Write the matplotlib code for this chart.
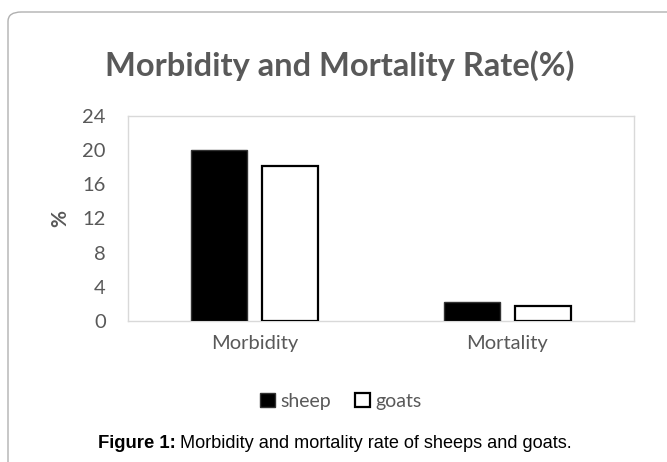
import matplotlib.pyplot as plt
import numpy as np
from matplotlib.patches import FancyBboxPatch

categories = ['Morbidity', 'Mortality']
sheep = [20.0, 2.2]
goats = [18.2, 1.8]
yticks = [0, 4, 8, 12, 16, 20, 24]

W, H = 667, 462
fig = plt.figure(figsize=(W / 100, H / 100), dpi=100)
plt.rcParams['font.family'] = ['Lato', 'DejaVu Sans']

# outer rounded frame (runs off the right and bottom edges)
frame = FancyBboxPatch((8 / W, -0.1), 1.2, (H - 12) / H + 0.1,
                       boxstyle="round,pad=0,rounding_size=0.02",
                       transform=fig.transFigure, fill=False,
                       edgecolor='#b0b0b0', linewidth=1.0)
fig.patches.append(frame)

ax = fig.add_axes([128 / W, 1 - 321 / H, (634 - 128) / W, (321 - 116) / H])
x = np.arange(len(categories))
bw = 0.22
gap = 0.063
ax.bar(x - (bw + gap) / 2, sheep, bw, color='black', edgecolor='#333333',
       linewidth=1.0, label='sheep', zorder=3)
ax.bar(x + (bw + gap) / 2, goats, bw, color='white', edgecolor='black',
       linewidth=1.6, label='goats', zorder=3)

ax.set_xlim(-0.5, 1.5)
ax.set_ylim(0, 24)
ax.set_yticks(yticks)
ax.set_xticks(x)
ax.set_xticklabels(categories)
ax.tick_params(length=0, labelsize=14.5, colors='#595959', pad=10)
ax.tick_params(axis='y', pad=16)
for s in ax.spines.values():
    s.set_color('#d9d9d9')
    s.set_linewidth(1.0)

ax.set_ylabel('%', fontsize=15, fontweight='bold', color='#595959', labelpad=9)

fig.text(340 / W, 1 - 66 / H, 'Morbidity and Mortality Rate(%)',
         ha='center', va='center', fontsize=23.5, fontweight='bold', color='#595959')

leg = fig.legend(*ax.get_legend_handles_labels(), loc='center',
                 bbox_to_anchor=(341 / W, 1 - 401 / H),
                 ncol=2, frameon=False, fontsize=14, handlelength=0.75,
                 handleheight=0.75, handletextpad=0.3, columnspacing=1.2)
for t in leg.get_texts():
    t.set_color('#595959')

fig.text(98 / W, 1 - 443 / H, 'Figure 1:', ha='left', va='center',
         fontsize=13.3, fontweight='bold', family='Liberation Sans')
fig.text(180 / W, 1 - 443 / H, 'Morbidity and mortality rate of sheeps and goats.',
         ha='left', va='center', fontsize=13.1, family='Liberation Sans')

fig.savefig('out.png', dpi=100)
